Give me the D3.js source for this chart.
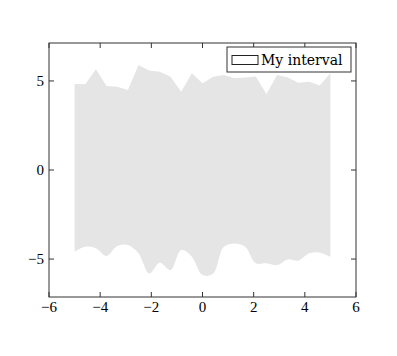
<!DOCTYPE html>
<html>
<head>
<meta charset="utf-8">
<script src="https://cdn.jsdelivr.net/npm/d3@7"></script>
<style>
  body { margin: 0; background: #fff; }
  text { font-family: "Liberation Serif", "DejaVu Serif", serif; }
</style>
</head>
<body>
<svg id="chart"></svg>
<script>
// sample points, 25 steps between -5 and 5
var xs = [-5, -4.583, -4.167, -3.75, -3.333, -2.917, -2.5, -2.083, -1.667, -1.25, -0.833, -0.417,
          0, 0.417, 0.833, 1.25, 1.667, 2.083, 2.5, 2.917, 3.333, 3.75, 4.167, 4.583, 5];
var upper = [4.83, 4.81, 5.66, 4.72, 4.68, 4.49, 5.9, 5.58, 5.52, 5.24, 4.4, 5.43,
             4.87, 5.24, 5.34, 5.15, 5.2, 5.25, 4.27, 5.34, 5.2, 4.9, 4.96, 4.75, 5.43];
var lower = [-4.59, -4.31, -4.4, -4.83, -4.27, -4.21, -4.68, -5.81, -5.21, -5.62, -4.49, -4.87,
             -5.9, -5.81, -4.31, -4.12, -4.31, -5.24, -5.24, -5.34, -5.02, -5.09, -4.68, -4.64, -4.87];
var xTicks = [-6, -4, -2, 0, 2, 4, 6];
var yTicks = [-5, 0, 5];
var legendLabel = "My interval";

var margin = {top: 43, right: 41, bottom: 59, left: 49},
    width = 397 - margin.left - margin.right,
    height = 356 - margin.top - margin.bottom;

var svg = d3.select("#chart").attr("width", 397).attr("height", 356);
var g = svg.append("g").attr("transform", "translate(" + margin.left + "," + margin.top + ")");

var x = d3.scaleLinear().domain([-6, 6]).range([0, width]);
var y = d3.scaleLinear().domain([-7.13, 7.13]).range([height, 0]);

var pts = xs.map(function(d, i) { return {x: d, hi: upper[i], lo: lower[i]}; });

var topLine = d3.line()
    .x(function(d) { return x(d.x); })
    .y(function(d) { return y(d.hi); });
var bottomLine = d3.line()
    .x(function(d) { return x(d.x); })
    .y(function(d) { return y(d.lo); })
    .curve(d3.curveCatmullRom);

var path = topLine(pts) + bottomLine(pts.slice().reverse()).replace(/^M/, "L") + "Z";

g.append("path")
    .attr("d", path)
    .attr("fill", "#e5e5e5");

// axes, ticks inside on all sides
var tickLen = 5;
var frame = g.append("g").attr("stroke", "#333").attr("stroke-width", 1);
xTicks.forEach(function(t) {
  frame.append("line").attr("x1", x(t)).attr("x2", x(t)).attr("y1", height).attr("y2", height - tickLen);
  frame.append("line").attr("x1", x(t)).attr("x2", x(t)).attr("y1", 0).attr("y2", tickLen);
});
yTicks.forEach(function(t) {
  frame.append("line").attr("x1", 0).attr("x2", tickLen).attr("y1", y(t)).attr("y2", y(t));
  frame.append("line").attr("x1", width).attr("x2", width - tickLen).attr("y1", y(t)).attr("y2", y(t));
});
g.append("rect")
    .attr("width", width).attr("height", height)
    .attr("fill", "none").attr("stroke", "#333").attr("stroke-width", 1);

var fmt = d3.format("");
g.selectAll(".xl").data(xTicks).enter().append("text")
    .attr("x", function(d) { return x(d); })
    .attr("y", height + 15)
    .attr("text-anchor", "middle")
    .style("font-size", "15px")
    .text(function(d) { return fmt(d); });

g.selectAll(".yl").data(yTicks).enter().append("text")
    .attr("x", -5)
    .attr("y", function(d) { return y(d) + 5; })
    .attr("text-anchor", "end")
    .style("font-size", "15px")
    .text(function(d) { return fmt(d); });

// legend
var lg = g.append("g").attr("transform", "translate(" + (width - 129) + ",4)");
lg.append("rect").attr("width", 124).attr("height", 25)
    .attr("fill", "#fff").attr("stroke", "#333").attr("stroke-width", 1);
lg.append("rect").attr("x", 5).attr("y", 8.5).attr("width", 26).attr("height", 9)
    .attr("fill", "#fff").attr("stroke", "#222").attr("stroke-width", 1);
lg.append("text").attr("x", 34).attr("y", 18)
    .style("font-family", "'DejaVu Serif', serif")
    .style("font-size", "14px")
    .text(legendLabel);
</script>
</body>
</html>
